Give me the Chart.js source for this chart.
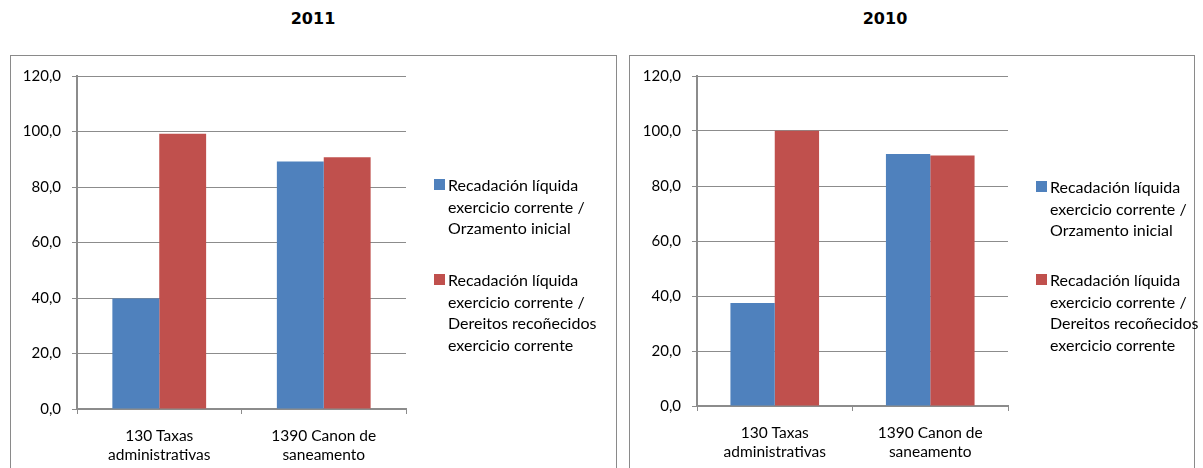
<!DOCTYPE html>
<html lang="gl">
<head>
    <meta charset="UTF-8">
    <title>Recadación líquida 2011 / 2010</title>
    <script src="https://cdn.jsdelivr.net/npm/chart.js"></script>
    <style>
        body {
            margin: 0;
            width: 1203px;
            height: 468px;
            overflow: hidden;
            background: #fff;
            position: relative;
            font-family: Lato, "Open Sans", sans-serif;
        }

        .title {
            position: absolute;
            top: 9px;
            width: 120px;
            text-align: center;
            font-family: "DejaVu Sans", Verdana, sans-serif;
            font-weight: bold;
            font-size: 16px;
            color: #000;
        }

        .box {
            position: absolute;
            top: 55px;
            height: 440px;
            box-sizing: border-box;
            border: 1px solid #8a8a8a;
            background: #fff;
        }

        .box canvas {
            position: absolute;
            left: 0;
            top: 0;
        }

        .legend-item {
            position: absolute;
            font-size: 16px;
            line-height: 21.5px;
            color: #000;
            white-space: nowrap;
        }

        .legend-item .swatch {
            position: absolute;
            left: -14px;
            top: 5px;
            width: 11px;
            height: 11px;
        }
    </style>
</head>
<body>
    <div class="title" style="left: 253px;">2011</div>
    <div class="title" style="left: 825px;">2010</div>

    <div class="box" id="box2011" style="left: 10px; width: 607px;">
        <canvas id="chart2011"></canvas>
    </div>
    <div class="box" id="box2010" style="left: 629px; width: 566px;">
        <canvas id="chart2010"></canvas>
    </div>

    <script>
        // datos (%)
        const categories = [['130 Taxas', 'administrativas'], ['1390 Canon de', 'saneamento']];
        const seriesNames = [
            'Recadación líquida exercicio corrente / Orzamento inicial',
            'Recadación líquida exercicio corrente / Dereitos recoñecidos exercicio corrente'
        ];
        const legendLines = [
            ['Recadación líquida', 'exercicio corrente /', 'Orzamento inicial'],
            ['Recadación líquida', 'exercicio corrente /', 'Dereitos recoñecidos', 'exercicio corrente']
        ];
        const seriesColors = ['#4F81BD', '#C0504D'];

        const orzamento2011 = [39.8, 89.2];
        const dereitos2011 = [99.2, 90.7];
        const orzamento2010 = [37.5, 91.6];
        const dereitos2010 = [100.1, 91.1];

        const yTicks = [0, 20, 40, 60, 80, 100, 120];

        const gridColor = '#8c8c8c';
        const tickFont = { family: 'Lato', size: 15 };

        function makeChart(canvasId, data, layout) {
            const canvas = document.getElementById(canvasId);
            canvas.width = layout.w;
            canvas.height = layout.h;
            canvas.style.width = layout.w + 'px';
            canvas.style.height = layout.h + 'px';

            return new Chart(canvas.getContext('2d'), {
                type: 'bar',
                data: {
                    labels: categories,
                    datasets: data.map((vals, i) => ({
                        label: seriesNames[i],
                        data: vals,
                        backgroundColor: seriesColors[i],
                        borderWidth: 0,
                        categoryPercentage: 0.57,
                        barPercentage: 1.0
                    }))
                },
                options: {
                    responsive: false,
                    animation: false,
                    devicePixelRatio: 1,
                    layout: {
                        padding: { top: layout.top, right: layout.right, bottom: 0, left: 0 }
                    },
                    plugins: {
                        legend: { display: false },
                        tooltip: { enabled: false }
                    },
                    scales: {
                        x: {
                            offset: true,
                            grid: {
                                drawOnChartArea: false,
                                drawTicks: true,
                                tickLength: 5,
                                color: gridColor
                            },
                            border: { color: gridColor, width: 2 },
                            ticks: {
                                color: '#000',
                                font: { family: 'Lato', size: 15.5, lineHeight: 1.25 },
                                padding: 12,
                                maxRotation: 0
                            },
                            afterFit: s => { s.height = layout.xh; }
                        },
                        y: {
                            min: 0,
                            max: 120,
                            afterBuildTicks: s => { s.ticks = yTicks.map(v => ({ value: v })); },
                            grid: {
                                color: gridColor,
                                lineWidth: 1,
                                tickLength: 5
                            },
                            border: { color: gridColor, width: 2 },
                            ticks: {
                                color: '#000',
                                font: tickFont,
                                padding: 11,
                                callback: v => v.toFixed(1).replace('.', ',')
                            },
                            afterFit: s => { s.width = layout.yw; }
                        }
                    }
                }
            });
        }

        function makeLegend(box, x, tops) {
            legendLines.forEach((lines, i) => {
                const item = document.createElement('div');
                item.className = 'legend-item';
                item.style.left = x + 'px';
                item.style.top = tops[i] + 'px';
                const sw = document.createElement('div');
                sw.className = 'swatch';
                sw.style.background = seriesColors[i];
                item.appendChild(sw);
                lines.forEach((t, j) => {
                    if (j) item.appendChild(document.createElement('br'));
                    item.appendChild(document.createTextNode(t));
                });
                box.appendChild(item);
            });
        }

        makeChart('chart2011', [orzamento2011, dereitos2011],
            { w: 605, h: 412, top: 19, right: 210, yw: 66, xh: 59 });
        makeChart('chart2010', [orzamento2010, dereitos2010],
            { w: 564, h: 412, top: 20, right: 186, yw: 67, xh: 62 });

        // posicións relativas á caixa (bordo 1px)
        makeLegend(document.getElementById('box2011'), 448 - 11, [174 - 56, 269 - 56]);
        makeLegend(document.getElementById('box2010'), 1050 - 630, [176 - 56, 269 - 56]);
    </script>
</body>
</html>
